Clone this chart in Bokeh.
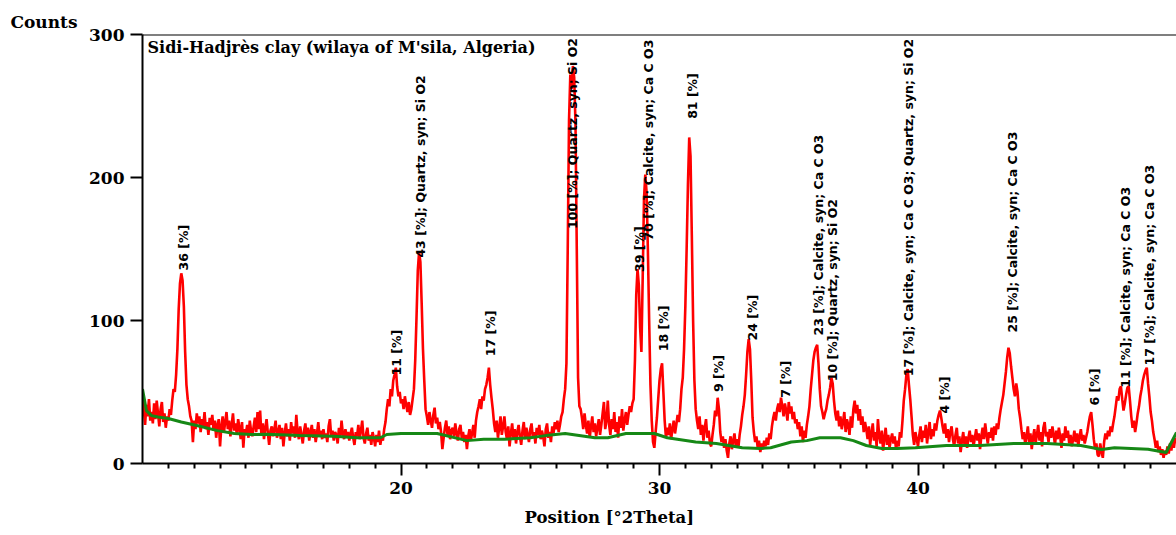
import numpy as np
from bokeh.plotting import figure
from bokeh.models import ColumnDataSource, FixedTicker, Label, Span, Title
from bokeh.core.properties import value
from bokeh.embed import file_html
from bokeh.resources import INLINE

# Measured scan: 10-50 °2θ, 0.05° step, one row per degree
scan_start = 10.0
scan_step = 0.05
counts = [
    50, 38, 27, 41, 33, 45, 30, 36, 28, 42, 31, 44, 35, 26, 38, 43, 29, 35, 25, 33,
    30, 38, 34, 44, 52, 50, 62, 80, 108, 126, 133, 128, 110, 78, 55, 45, 40, 33, 30, 15,
    30, 24, 35, 28, 33, 22, 31, 26, 36, 24, 29, 20, 32, 27, 34, 23, 30, 18, 27, 31,
    12, 26, 33, 22, 29, 36, 24, 30, 19, 27, 35, 23, 28, 20, 31, 25, 17, 29, 11, 24,
    21, 27, 18, 30, 23, 19, 26, 32, 22, 36, 24, 37, 20, 28, 17, 25, 31, 21, 13, 23,
    26, 19, 24, 30, 18, 22, 27, 17, 25, 12, 21, 28, 19, 24, 16, 29, 21, 26, 18, 34,
    22, 17, 26, 20, 14, 23, 28, 19, 25, 16, 22, 27, 18, 24, 15, 21, 29, 19, 23, 17,
    24, 18, 21, 15, 26, 31, 19, 23, 16, 22, 20, 14, 25, 18, 30, 21, 17, 24, 19, 22,
    16, 21, 25, 18, 13, 22, 19, 27, 17, 23, 30, 18, 14, 21, 25, 16, 20, 13, 22, 18,
    12, 20, 15, 23, 13, 19, 16, 24, 29, 38, 45, 40, 52, 47, 58, 62, 67, 54, 47, 50,
    42, 45, 38, 47, 41, 36, 43, 34, 38, 45, 52, 72, 102, 135, 148, 141, 112, 80, 58, 38,
    33, 27, 36, 30, 25, 34, 39, 28, 32, 24, 29, 22, 10, 18, 25, 30, 20, 26, 17, 23,
    25, 19, 28, 21, 16, 24, 27, 18, 22, 15, 20, 10, 19, 24, 16, 21, 27, 18, 30, 36,
    40, 45, 38, 47, 44, 52, 55, 60, 67, 55, 46, 38, 28, 22, 30, 18, 25, 33, 20, 26,
    33, 22, 17, 26, 12, 21, 28, 18, 24, 14, 22, 27, 19, 13, 23, 29, 17, 25, 20, 15,
    24, 28, 18, 22, 14, 25, 20, 27, 17, 23, 19, 12, 24, 28, 18, 22, 15, 26, 21, 29,
    24, 30, 22, 27, 33, 36, 45, 52, 70, 150, 240, 272, 262, 278, 270, 238, 150, 60, 40, 38,
    32, 24, 35, 27, 21, 30, 18, 26, 33, 22, 28, 19, 25, 31, 20, 27, 35, 43, 24, 30,
    44, 27, 20, 31, 24, 36, 22, 29, 18, 33, 25, 38, 23, 30, 36, 27, 34, 40, 36, 42,
    45, 72, 118, 136, 125, 95, 78, 130, 185, 202, 190, 150, 100, 55, 30, 15, 11, 22, 32, 45,
    58, 66, 70, 50, 30, 18, 25, 20, 28, 17, 24, 30, 21, 27, 34, 29, 38, 52, 60, 80,
    110, 150, 195, 228, 215, 160, 100, 58, 38, 30, 24, 33, 20, 27, 16, 25, 31, 18, 23, 14,
    12, 20, 27, 37, 33, 46, 38, 22, 15, 19, 11, 17, 9, 4, 14, 19, 10, 16, 21, 12,
    17, 11, 20, 26, 34, 40, 48, 62, 78, 87, 80, 58, 32, 22, 15, 19, 11, 16, 8, 14,
    10, 16, 12, 18, 13, 21, 17, 26, 32, 36, 30, 38, 42, 36, 46, 40, 33, 42, 37, 30,
    43, 35, 40, 31, 36, 28, 31, 24, 29, 19, 26, 15, 23, 18, 27, 33, 40, 52, 62, 72,
    78, 81, 83, 70, 52, 40, 36, 31, 35, 38, 44, 48, 53, 60, 56, 44, 35, 30, 37, 26,
    33, 24, 29, 36, 22, 31, 27, 20, 33, 25, 38, 44, 35, 41, 30, 38, 27, 33, 22, 29,
    24, 17, 26, 13, 21, 28, 16, 22, 12, 31, 19, 14, 23, 9, 18, 25, 13, 20, 11, 17,
    21, 14, 19, 10, 16, 12, 22, 18, 30, 44, 52, 62, 66, 55, 45, 33, 20, 13, 22, 17,
    12, 20, 26, 15, 23, 18, 27, 14, 22, 29, 17, 24, 19, 28, 23, 30, 34, 37, 32, 26,
    21, 28, 18, 24, 15, 22, 26, 17, 12, 20, 25, 14, 19, 8, 16, 22, 13, 19, 11, 18,
    23, 15, 20, 12, 18, 24, 16, 21, 10, 19, 25, 17, 28, 20, 14, 22, 18, 25, 16, 26,
    20, 28, 24, 32, 38, 43, 48, 56, 64, 74, 81, 77, 68, 60, 52, 47, 56, 50, 38, 32,
    24, 17, 22, 13, 19, 26, 15, 21, 10, 18, 24, 14, 20, 27, 16, 22, 12, 25, 29, 19,
    22, 15, 24, 18, 26, 20, 13, 23, 17, 25, 19, 11, 21, 16, 26, 18, 23, 14, 20, 12,
    17, 23, 15, 21, 12, 19, 24, 16, 20, 14, 18, 22, 28, 33, 36, 27, 17, 10, 14, 6,
    5, 14, 8, 4, 15, 21, 17, 23, 19, 26, 22, 28, 33, 40, 47, 44, 52, 54, 45, 37,
    42, 48, 53, 54, 44, 33, 25, 30, 22, 28, 35, 40, 47, 52, 58, 62, 65, 67, 56, 47,
    36, 30, 22, 17, 11, 16, 8, 12, 6, 10, 4, 9, 6, 12, 7, 14, 9, 16, 11, 18,
    14,
]
two_theta = np.round(scan_start + scan_step * np.arange(len(counts)), 2)

# Fitted background
bg_theta = [10.0, 10.15, 10.35, 10.6, 11.0, 11.5, 12.1, 12.9, 13.55, 14.2, 14.8,
            16.1, 17.4, 18.3, 19.2, 19.45, 20.0, 21.4, 22.55, 23.2, 24.0, 25.0,
            25.6, 26.35, 27.5, 28.0, 28.7, 29.8, 30.3, 31.4, 32.2, 33.2, 33.9,
            34.3, 35.1, 35.7, 36.2, 37.0, 37.5, 38.0, 38.6, 39.2, 39.9, 41.1,
            42.4, 43.7, 45.0, 46.3, 47.1, 47.6, 48.9, 49.6, 50.0]
bg_counts = [52, 37, 33.5, 32.5, 31.5, 29, 26.6, 23, 21, 20.3, 20.5,
             19.6, 19, 18, 18, 20.3, 21, 21, 16, 17, 17, 18,
             19.5, 21, 18, 18, 21, 21, 18, 15, 14, 11, 10.5,
             11, 15, 16, 18, 18, 16, 12.6, 10.5, 10.5, 11, 12.6,
             12.6, 14, 14, 12.6, 9.8, 11, 10, 7.7, 21.7]

# Identified peaks: position, height where the tag starts, tag text
peak_pos = [11.57, 19.81, 20.77, 23.48, 26.65, 29.21, 29.59, 30.14, 31.26, 32.3,
            33.6, 34.89, 36.17, 36.71, 39.65, 41.04, 43.64, 46.81, 48.04, 48.94]
peak_tag_base = [135, 61.5, 144, 75, 164, 134, 156, 78.5, 241, 50,
                 86, 46, 89.5, 57.5, 61, 35, 91.6, 40.6, 53, 68.5]
peak_tags = [
    "36 [%]",
    "11 [%]",
    "43 [%]; Quartz, syn; Si O2",
    "17 [%]",
    "100 [%]; Quartz, syn; Si O2",
    "39 [%]",
    "70 [%]; Calcite, syn; Ca C O3",
    "18 [%]",
    "81 [%]",
    "9 [%]",
    "24 [%]",
    "7 [%]",
    "23 [%]; Calcite, syn; Ca C O3",
    "10 [%]; Quartz, syn; Si O2",
    "17 [%]; Calcite, syn; Ca C O3; Quartz, syn; Si O2",
    "4 [%]",
    "25 [%]; Calcite, syn; Ca C O3",
    "6 [%]",
    "11 [%]; Calcite, syn; Ca C O3",
    "17 [%]; Calcite, syn; Ca C O3",
]

x_major = [20, 30, 40]
y_major = [0, 100, 200, 300]

p = figure(width=1176, height=535, x_range=(10, 50), y_range=(0, 300),
           output_backend="svg", toolbar_location=None, title=None,
           min_border_left=142, min_border_right=0,
           min_border_top=34, min_border_bottom=72)
p.background_fill_color = "white"
p.border_fill_color = "white"
p.outline_line_color = None
p.xgrid.visible = False
p.ygrid.visible = False

serif = "DejaVu Serif"
for ax in (p.xaxis[0], p.yaxis[0]):
    ax.axis_line_color = "black"
    ax.axis_line_width = 2
    ax.major_tick_line_color = "black"
    ax.major_tick_line_width = 2
    ax.major_tick_in = 0
    ax.major_tick_out = 12
    ax.major_label_standoff = 6
    ax.major_label_text_font = serif
    ax.major_label_text_font_style = "bold"
    ax.major_label_text_font_size = "17px"
    ax.major_label_text_color = "black"

p.xaxis.ticker = FixedTicker(ticks=x_major,
                             minor_ticks=[t for t in range(11, 50) if t % 10])
p.xaxis.minor_tick_in = 0
p.xaxis.minor_tick_out = 5
p.xaxis.minor_tick_line_width = 2
p.xaxis.minor_tick_line_color = "black"
p.yaxis.ticker = FixedTicker(ticks=y_major)
p.yaxis.minor_tick_line_color = None

# top edge of the frame
p.add_layout(Span(location=300, dimension="width", line_color="black", line_width=2))

p.line(two_theta, counts, line_color="#ff0000", line_width=2.6)
p.line(bg_theta, bg_counts, line_color="#168816", line_width=3)

tags = ColumnDataSource(dict(x=peak_pos, y=peak_tag_base, text=peak_tags))
p.text(x="x", y="y", text="text", source=tags, angle=np.pi / 2,
       text_align="left", text_baseline="middle",
       text_font=value("DejaVu Sans"), text_font_style="bold",
       text_font_size="12.5px", text_color="black")

p.add_layout(Label(x=5, y=426, x_units="screen", y_units="screen",
                   text="Sidi-Hadjrès clay (wilaya of M'sila, Algeria)",
                   text_font=serif, text_font_style="bold", text_font_size="16px",
                   text_baseline="top", text_color="black"))

# axis captions placed as titles so they sit outside the frame
p.add_layout(Title(text="Counts", align="left", offset=-132, standoff=5,
                   text_font=serif, text_font_style="bold", text_font_size="17px",
                   text_color="black"), "above")
p.add_layout(Title(text="Position [°2Theta]", align="left", offset=382, standoff=18,
                   text_font=serif, text_font_style="bold", text_font_size="16.5px",
                   text_color="black"), "below")

open("out.html", "w").write(file_html(p, INLINE))
